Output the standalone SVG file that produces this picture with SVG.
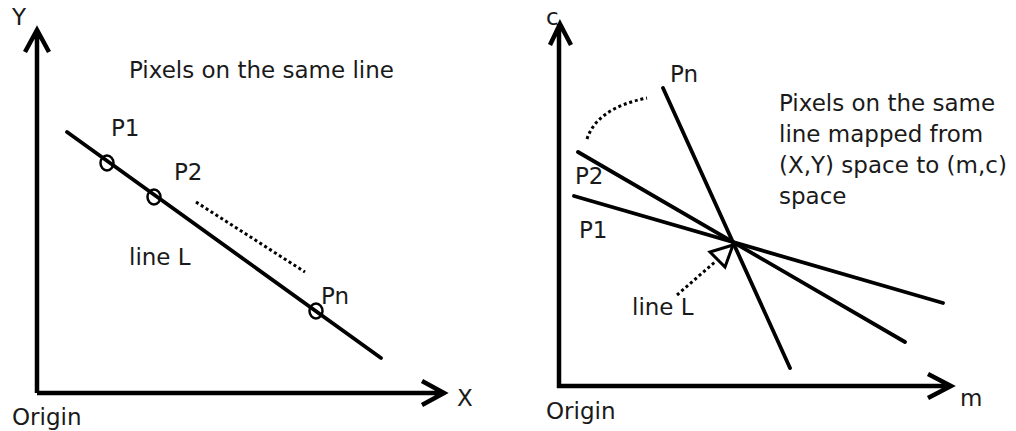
<svg xmlns="http://www.w3.org/2000/svg" width="1016" height="431" viewBox="0 0 1016 431">
<style>
.t{font-family:"DejaVu Sans","Liberation Sans",sans-serif;font-size:23px;fill:#1a1a1a}
.ax{stroke:#000;stroke-width:4.5;fill:none;stroke-linecap:butt;stroke-linejoin:miter}
.ln{stroke:#000;stroke-width:3.8;fill:none;stroke-linecap:round}
.dot{stroke:#000;stroke-width:3;fill:none;stroke-dasharray:3 2.8}
.pt{stroke:#000;stroke-width:2.5;fill:none}
</style>
<rect width="1016" height="431" fill="#fff"/>
<g id="left-axes">
<path class="ax" d="M37 393 V30 M25 52 L37 30 L49 52"/>
<path class="ax" d="M37 393 H443 M422 381 L444 393 L422 405"/>
<text class="t" x="12" y="25">Y</text>
<text class="t" x="457" y="406">X</text>
<text class="t" x="12" y="425">Origin</text>
</g>
<g id="left-title"><text class="t" x="129" y="78">Pixels on the same line</text></g>
<g id="left-line">
<line class="ln" x1="67" y1="132" x2="381" y2="358"/>
<text class="t" x="129" y="265">line L</text>
</g>
<g id="left-points">
<ellipse class="pt" cx="107" cy="163" rx="6.5" ry="7.5"/>
<text class="t" x="111" y="136">P1</text>
<ellipse class="pt" cx="154" cy="197" rx="6.5" ry="7.5"/>
<text class="t" x="174" y="180">P2</text>
<ellipse class="pt" cx="316" cy="311" rx="6.5" ry="7.5"/>
<text class="t" x="321" y="304">Pn</text>
<line class="dot" x1="196" y1="202" x2="305" y2="272"/>
</g>
<g id="right-axes">
<path class="ax" d="M559 388 V24 M550 45 L560 24 L571 45"/>
<path class="ax" d="M557 386 H950 M928 374 L951 386 L928 398"/>
<text class="t" x="546" y="25">c</text>
<text class="t" x="960" y="406">m</text>
<text class="t" x="546" y="419">Origin</text>
</g>
<g id="right-lines">
<line class="ln" x1="663" y1="88" x2="790" y2="368"/>
<line class="ln" x1="578" y1="152" x2="905" y2="342"/>
<line class="ln" x1="574" y1="196" x2="943" y2="303"/>
<text class="t" x="670" y="82">Pn</text>
<text class="t" x="575" y="184">P2</text>
<text class="t" x="579" y="238">P1</text>
<path class="dot" d="M587 139 Q597 108 647 98"/>
</g>
<g id="right-lineL">
<line class="dot" x1="677" y1="295" x2="716" y2="261"/>
<polygon points="733,245 710,252 725,267" fill="#fff" stroke="#000" stroke-width="3" stroke-linejoin="miter"/>
<text class="t" x="632" y="315">line L</text>
</g>
<g id="right-text">
<text class="t" x="779" y="111">Pixels on the same</text>
<text class="t" x="779" y="142">line mapped from</text>
<text class="t" x="779" y="173">(X,Y) space to (m,c)</text>
<text class="t" x="779" y="204">space</text>
</g>
</svg>
